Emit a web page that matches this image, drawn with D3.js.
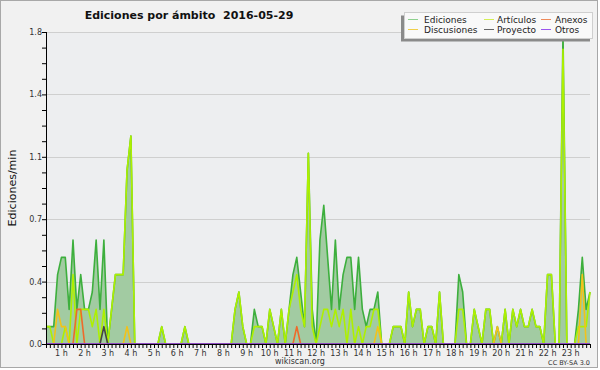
<!DOCTYPE html>
<meta charset="utf-8">
<style>
  body { margin: 0; background: #fff; }
  svg { display: block; }
  text { font-family: "DejaVu Sans", sans-serif; }
  .tick text { font-size: 8px; fill: #333; }
</style>
<svg width="600" height="370"></svg>
<script src="https://d3js.org/d3.v7.min.js"></script>
<script>
  // one value every 10 minutes, from 00:20 to 23:50 (edits per minute)
  var startMin = 20, stepMin = 10;

  var ediciones = [
    0.1,0.1,0.1,0.4,0.5,0.5,0.2,0.6,0.2,0.4,
    0.2,0.2,0.3,0.6,0.2,0.6,0,0.2,0.4,0.4,
    0.4,1.0,1.2,0,0,0,0,0,0,0,
    0.1,0,0,0,0,0,0.1,0,0,0,
    0,0,0,0,0,0,0,0,0,0.2,
    0.3,0.1,0,0,0.2,0.1,0.1,0,0.2,0.1,
    0,0.2,0,0.2,0.4,0.5,0.3,0.1,1.1,0.2,
    0,0.6,0.8,0.5,0.2,0.6,0.2,0.4,0.5,0.5,
    0.2,0.5,0.2,0.1,0.2,0.2,0.3,0,0,0,
    0.1,0.1,0.1,0,0.3,0.1,0.2,0.2,0,0.1,
    0.1,0,0.3,0,0,0,0,0.4,0.3,0,
    0,0.2,0.1,0,0.2,0.2,0,0.1,0,0.2,
    0,0.2,0.1,0.2,0.1,0.1,0.2,0.1,0.1,0,
    0.4,0.4,0,0,1.8,0,0,0,0.2,0.5,
    0.2,0.3
  ];
  var articulos = [
    0.1,0.1,0,0,0,0.1,0,0.4,0,0.2,
    0.2,0.2,0.1,0.2,0,0.2,0,0.2,0.4,0.4,
    0.4,1.0,1.2,0,0,0,0,0,0,0,
    0.1,0,0,0,0,0,0.1,0,0,0,
    0,0,0,0,0,0,0,0,0,0.2,
    0.3,0.1,0,0,0.1,0.1,0.1,0,0.2,0.1,
    0,0.2,0,0.2,0.3,0.4,0.2,0.1,1.1,0.1,
    0,0.1,0.2,0.2,0.1,0.2,0.1,0.2,0,0.2,
    0,0.1,0,0.1,0.1,0.2,0.2,0,0,0,
    0.1,0.1,0.1,0,0.3,0.1,0.2,0.2,0,0.1,
    0.1,0,0.3,0,0,0,0,0.2,0.2,0,
    0,0.2,0.1,0,0.2,0.2,0,0,0,0.2,
    0,0.2,0.1,0.2,0.1,0.1,0.2,0.1,0.1,0,
    0.4,0.4,0,0,1.7,0,0,0,0.1,0.1,
    0.1,0.3
  ];
  var discusiones = [
    0,0,0,0.2,0.1,0.1,0,0,0,0,
    0,0,0,0,0,0,0,0,0,0,
    0,0.1,0,0,0,0,0,0,0,0,
    0,0,0,0,0,0,0,0,0,0,
    0,0,0,0,0,0,0,0,0,0,
    0,0,0,0,0,0,0,0,0,0,
    0,0,0,0,0,0,0,0,0,0,
    0,0,0,0,0,0,0,0,0,0,
    0,0,0,0,0,0,0.1,0,0,0,
    0,0,0,0,0,0,0,0,0,0,
    0,0,0,0,0,0,0,0,0,0,
    0,0,0,0,0,0,0,0.1,0,0,
    0,0,0,0,0,0,0,0,0,0,
    0,0,0,0,0,0,0,0,0,0.4,
    0,0
  ];
  var anexos = [
    0,0,0,0,0,0,0,0,0.2,0.2,
    0,0,0,0,0,0,0,0,0,0,
    0,0,0,0,0,0,0,0,0,0,
    0,0,0,0,0,0,0,0,0,0,
    0,0,0,0,0,0,0,0,0,0,
    0,0,0,0,0,0,0,0,0,0,
    0,0,0,0,0,0.1,0,0,0,0,
    0,0,0,0,0,0,0,0,0,0,
    0,0,0,0,0,0,0,0,0,0,
    0,0,0,0,0,0,0,0,0,0,
    0,0,0,0,0,0,0,0,0,0,
    0,0,0,0,0,0,0,0,0,0,
    0,0,0,0,0,0,0,0,0,0,
    0,0,0,0,0,0,0,0,0,0,
    0,0
  ];
  var proyecto = [
    0,0,0,0,0,0,0,0,0,0,
    0,0,0,0,0,0.1,0,0,0,0,
    0,0,0,0,0,0,0,0,0,0,
    0,0,0,0,0,0,0,0,0,0,
    0,0,0,0,0,0,0,0,0,0,
    0,0,0,0,0,0,0,0,0,0,
    0,0,0,0,0,0,0,0,0,0,
    0,0,0,0,0,0,0,0,0,0,
    0,0,0,0,0,0,0,0,0,0,
    0,0,0,0,0,0,0,0,0,0,
    0,0,0,0,0,0,0,0,0,0,
    0,0,0,0,0,0,0,0,0,0,
    0,0,0,0,0,0,0,0,0,0,
    0,0,0,0,0,0,0,0,0,0,
    0,0
  ];
  var otros = ediciones.map(function() { return 0; });

  var hourLabels = d3.range(1, 24);
  var yMax = 1.8;

  var series = [
    { name: "Ediciones",   values: ediciones,   color: "#3daf3d", legend: "#8fd18f" },
    { name: "Artículos",   values: articulos,   color: "#aef000", legend: "#d4ee55" },
    { name: "Anexos",      values: anexos,      color: "#ee6a2a", legend: "#ee8a5a" },
    { name: "Discusiones", values: discusiones, color: "#f2c21a", legend: "#f0cf4a" },
    { name: "Proyecto",    values: proyecto,    color: "#444444", legend: "#666666" },
    { name: "Otros",       values: otros,       color: "#9a44ee", legend: "#9a55ee" }
  ];

  var svg = d3.select("svg");
  var pL = 46, pR = 590, pT = 32, pB = 344;

  var x = d3.scaleLinear()
    .domain([startMin, startMin + stepMin * (ediciones.length - 1)])
    .range([pL, pR]);
  var y = d3.scaleLinear().domain([0, yMax]).range([pB, pT]);

  // frame
  svg.append("rect")
    .attr("x", 0.5).attr("y", 0.5).attr("width", 597).attr("height", 367)
    .attr("fill", "#f1f1f1").attr("stroke", "#a8a8a8");
  svg.append("rect")
    .attr("x", pL).attr("y", pT).attr("width", pR - pL).attr("height", pB - pT)
    .attr("fill", "#edeef0");

  // grid
  var major = d3.range(0, 6).map(function(i) { return i * yMax / 5; });
  svg.append("g").selectAll("line")
    .data(major.slice(1))
    .enter().append("line")
    .attr("x1", pL).attr("x2", pR)
    .attr("y1", function(d) { return Math.round(y(d)) + 0.5; })
    .attr("y2", function(d) { return Math.round(y(d)) + 0.5; })
    .attr("stroke", "#cfcfcf");

  var area = d3.area()
    .x(function(d, i) { return x(startMin + i * stepMin); })
    .y0(y(0))
    .y1(function(d) { return y(d); });

  var line = d3.line()
    .x(function(d, i) { return x(startMin + i * stepMin); })
    .y(function(d) { return y(d); });

  svg.append("path")
    .attr("d", area(ediciones))
    .attr("fill", "#a2cba2");

  series.forEach(function(s) {
    svg.append("path")
      .attr("d", line(s.values))
      .attr("fill", "none")
      .attr("stroke", s.color)
      .attr("stroke-width", 1.6)
      .attr("stroke-linejoin", "round");
  });

  // y axis
  var yAxis = svg.append("g")
    .attr("transform", "translate(" + pL + ",0)")
    .call(d3.axisLeft(y)
      .tickValues(d3.range(0, 21).map(function(i) { return i * yMax / 20; }))
      .tickSize(4)
      .tickFormat(function(d, i) { return i % 4 === 0 ? d3.format(".1f")(d) : ""; }));
  yAxis.select(".domain").attr("stroke", "#000").attr("d", "M0.5," + pT + "V" + (pB + 0.5));
  yAxis.selectAll(".tick line").attr("stroke", "#000");
  yAxis.selectAll(".tick text").attr("x", -4).attr("dy", "0.3em");

  // x axis
  var xAxis = svg.append("g")
    .attr("transform", "translate(0," + pB + ")")
    .call(d3.axisBottom(x)
      .tickValues(d3.range(ediciones.length).map(function(i) { return startMin + i * stepMin; }))
      .tickSize(4)
      .tickFormat(""));
  xAxis.select(".domain").attr("stroke", "#000").attr("d", "M" + pL + ",0.5H" + pR);
  xAxis.selectAll(".tick line").attr("stroke", "#000");

  svg.append("g").selectAll("text")
    .data(hourLabels)
    .enter().append("text")
    .attr("x", function(d) { return x(d * 60); })
    .attr("y", pB + 12)
    .attr("text-anchor", "middle")
    .attr("font-size", "8px")
    .attr("fill", "#333")
    .text(function(d) { return d + " h"; });

  // titles
  svg.append("text")
    .attr("x", 189).attr("y", 19)
    .attr("text-anchor", "middle")
    .attr("font-size", "11px")
    .attr("font-weight", "bold")
    .attr("fill", "#111")
    .style("white-space", "pre")
    .text("Ediciones por ámbito  2016-05-29");

  svg.append("text")
    .attr("transform", "translate(16,188) rotate(-90)")
    .attr("text-anchor", "middle")
    .attr("font-size", "11px")
    .attr("fill", "#111")
    .text("Ediciones/min");

  svg.append("text")
    .attr("x", 300).attr("y", 364)
    .attr("text-anchor", "middle")
    .attr("font-size", "8px")
    .attr("fill", "#333")
    .text("wikiscan.org");

  svg.append("text")
    .attr("x", 590).attr("y", 365)
    .attr("text-anchor", "end")
    .attr("font-size", "6.5px")
    .attr("fill", "#333")
    .text("CC BY-SA 3.0");

  // legend
  var lg = svg.append("g");
  lg.append("rect")
    .attr("x", 401).attr("y", 15.5).attr("width", 189).attr("height", 26)
    .attr("fill", "#8a8a8a");
  lg.append("rect")
    .attr("x", 404.5).attr("y", 12.5).attr("width", 188).attr("height", 26)
    .attr("fill", "#f9f9f9").attr("stroke", "#cfcfcf");

  var legendOrder = ["Ediciones", "Artículos", "Anexos", "Discusiones", "Proyecto", "Otros"];
  var colX = [408, 484, 541], textX = [424, 497, 555], rowY = [19.5, 29.5];
  legendOrder.forEach(function(name, i) {
    var s = series.filter(function(d) { return d.name === name; })[0];
    var c = i % 3, r = Math.floor(i / 3);
    lg.append("line")
      .attr("x1", colX[c]).attr("x2", colX[c] + 10)
      .attr("y1", rowY[r]).attr("y2", rowY[r])
      .attr("stroke", s.legend);
    lg.append("text")
      .attr("x", textX[c]).attr("y", rowY[r] + 3.5)
      .attr("font-size", "9px")
      .attr("fill", "#222")
      .text(name);
  });
</script>
